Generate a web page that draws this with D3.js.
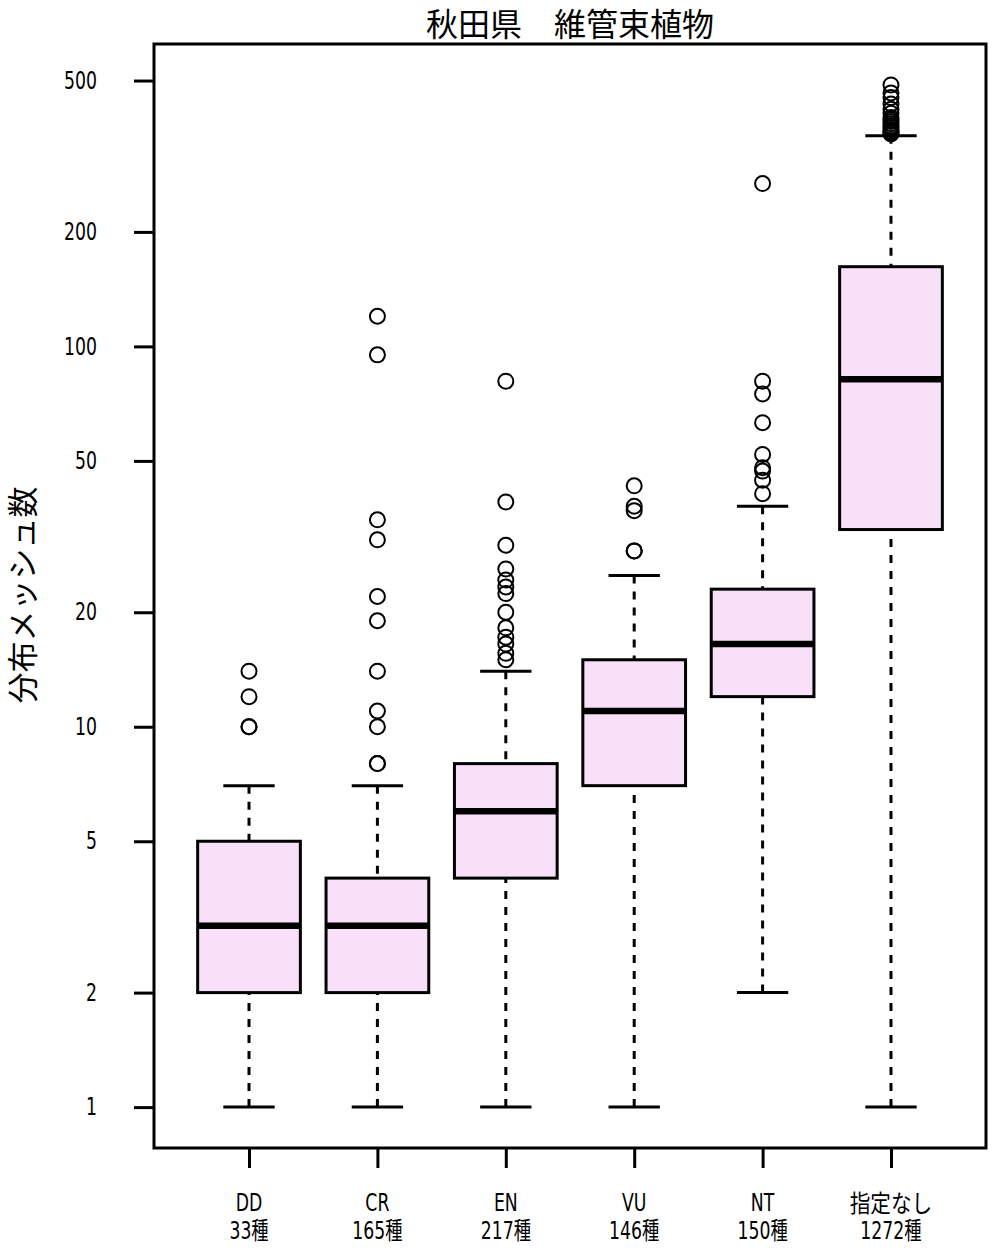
<!DOCTYPE html>
<html><head><meta charset="utf-8">
<script src="https://cdn.jsdelivr.net/npm/d3@7"></script>
<style>
body{margin:0;background:#fff;}
svg{display:block;}
.num{font-family:"DejaVu Sans","Noto Sans CJK JP",sans-serif;}
.cjk{font-family:"Noto Sans CJK JP",sans-serif;}
</style></head>
<body>
<script>
const categories = ["DD","CR","EN","VU","NT","指定なし"];
const counts = ["33種","165種","217種","146種","150種","1272種"];
const q1 = [2,2,4,7,12,33];
const medians = [3,3,6,11,16.5,82];
const q3 = [5,4,8,15,23,162];
const whiskerLow = [1,1,1,1,2,1];
const whiskerHigh = [7,7,14,25,38,358];
const outliersDD = [10,10,12,14];
const outliersCR = [8,8,10,11,14,19,22,31,35,95,120];
const outliersEN = [15,15.6,16.5,17.2,18.2,20,22.4,23.3,24.3,26,30,39,81];
const outliersVU = [29,29,37,38,43];
const outliersNT = [41,44.5,47,48,52,63,75,81,268];
const outliersNone = [362,365,368,372,376,380,385,390,395,400,410,420,434,451,464,487];
const outliers = [outliersDD,outliersCR,outliersEN,outliersVU,outliersNT,outliersNone];
const yTicks = [1,2,5,10,20,50,100,200,500];
const title = "秋田県　維管束植物";
const yLabel = "分布メッシュ数";

const W = 1004, H = 1260;
const plot = {left:154, right:986, top:44, bottom:1148};
const sx = 0.72;
const svg = d3.select("body").append("svg").attr("width",W).attr("height",H);

const allVals = d3.merge([whiskerLow, whiskerHigh, ...outliers]);
const lmin = Math.log10(d3.min(allVals)), lmax = Math.log10(d3.max(allVals));
const ext = (lmax - lmin) * 0.04;
const y = d3.scaleLog().domain([Math.pow(10,lmin-ext), Math.pow(10,lmax+ext)]).range([plot.bottom, plot.top]);
const n = categories.length;
const xext = n * 0.04;
const x = d3.scaleLinear().domain([0.5 - xext, n + 0.5 + xext]).range([plot.left, plot.right]);
const unit = x(2) - x(1);
const boxW = unit * 0.8;
const capW = boxW * 0.5;
const fill = "#f8e0f8";

const g = svg.append("g");
categories.forEach((c,i)=>{
  const cx = x(i+1);
  const gg = g.append("g");
  gg.append("line").attr("x1",cx).attr("x2",cx).attr("y1",y(whiskerLow[i])).attr("y2",y(q1[i]))
    .attr("stroke","#000").attr("stroke-width",3).attr("stroke-dasharray","8,8");
  gg.append("line").attr("x1",cx).attr("x2",cx).attr("y1",y(whiskerHigh[i])).attr("y2",y(q3[i]))
    .attr("stroke","#000").attr("stroke-width",3).attr("stroke-dasharray","8,8");
  [whiskerLow[i], whiskerHigh[i]].forEach(v=>{
    gg.append("line").attr("x1",cx-capW/2).attr("x2",cx+capW/2).attr("y1",y(v)).attr("y2",y(v))
      .attr("stroke","#000").attr("stroke-width",3);
  });
  gg.append("rect").attr("x",cx-boxW/2).attr("width",boxW)
    .attr("y",y(q3[i])).attr("height",y(q1[i])-y(q3[i]))
    .attr("fill",fill).attr("stroke","#000").attr("stroke-width",3);
  gg.append("line").attr("x1",cx-boxW/2).attr("x2",cx+boxW/2).attr("y1",y(medians[i])).attr("y2",y(medians[i]))
    .attr("stroke","#000").attr("stroke-width",6.5);
  gg.selectAll("circle").data(outliers[i]).join("circle")
    .attr("cx",cx).attr("cy",d=>y(d)).attr("r",7.5)
    .attr("fill","none").attr("stroke","#000").attr("stroke-width",2);
});

svg.append("rect").attr("x",plot.left).attr("y",plot.top)
  .attr("width",plot.right-plot.left).attr("height",plot.bottom-plot.top)
  .attr("fill","none").attr("stroke","#000").attr("stroke-width",3);

const yAxis = d3.axisLeft(y).tickValues(yTicks).tickFormat(d3.format("d")).tickSize(20).tickPadding(37);
const ya = svg.append("g").attr("transform",`translate(${plot.left},0)`).call(yAxis);
ya.select(".domain").remove();
ya.selectAll(".tick line").attr("stroke","#000").attr("stroke-width",3);
ya.selectAll(".tick text").attr("class","num").attr("font-size",24).attr("fill","#000")
  .attr("x",-57/sx).attr("transform",`scale(${sx},1)`);

const xAxis = d3.axisBottom(x).tickValues(d3.range(1,n+1)).tickFormat("").tickSize(20);
const xa = svg.append("g").attr("transform",`translate(0,${plot.bottom})`).call(xAxis);
xa.select(".domain").remove();
xa.selectAll(".tick line").attr("stroke","#000").attr("stroke-width",3);
const isCJK = t => /^[\u3000-\u9fff]+$/.test(t);
categories.forEach((c,i)=>{
  [[c,1203],[counts[i],1231]].forEach(([t,yy])=>{
    const s = isCJK(t) ? 0.86 : sx;
    svg.append("text").attr("class","num")
      .attr("transform",`translate(${x(i+1)},${yy}) scale(${s},1)`)
      .attr("text-anchor","middle").attr("dominant-baseline","central").attr("font-size",24).text(t);
  });
});

svg.append("text").attr("class","cjk").attr("x",(plot.left+plot.right)/2).attr("y",22)
  .attr("text-anchor","middle").attr("dominant-baseline","central").attr("font-size",32).text(title);

svg.append("text").attr("class","cjk").attr("transform","translate(20,595) rotate(-90)")
  .attr("text-anchor","middle").attr("dominant-baseline","central").attr("font-size",31).text(yLabel);
</script>
</body></html>
